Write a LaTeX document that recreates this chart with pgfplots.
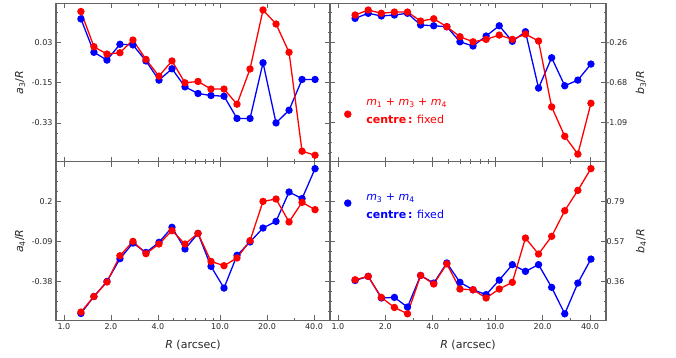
\documentclass[border=0pt]{standalone}
\usepackage{pgfplots}
\usepackage{pgfplotstable}
\pgfplotsset{compat=1.18}
\usepackage{fontspec}
\setmainfont{DejaVu Sans}
\definecolor{mred}{RGB}{255,0,0}
\definecolor{mblue}{RGB}{0,0,255}
\definecolor{framec}{RGB}{100,100,100}

\pgfplotstableread{
R      a3r     a3b     b3r     b3b     a4r     a4b     b4r    b4b
1.285  0.170   0.137   0.029  -0.006  -0.602  -0.612   0.369  0.365
1.557  0.012  -0.013   0.081   0.047  -0.489  -0.489   0.387  0.387
1.887 -0.021  -0.048   0.047   0.019  -0.384  -0.380   0.274  0.271
2.285 -0.015   0.023   0.060   0.029  -0.194  -0.215   0.220  0.274
2.768  0.042   0.020   0.060   0.047  -0.090  -0.102   0.186  0.222
3.354 -0.045  -0.052  -0.034  -0.075  -0.179  -0.170   0.392  0.392
4.063 -0.120  -0.138  -0.010  -0.083  -0.109  -0.097   0.346  0.351
4.922 -0.052  -0.087  -0.093  -0.093  -0.012   0.012   0.454  0.459
5.964 -0.150  -0.168  -0.197  -0.250  -0.109  -0.145   0.319  0.355
7.224 -0.144  -0.198  -0.250  -0.294  -0.032  -0.032   0.315  0.315
8.750 -0.178  -0.207  -0.225  -0.190  -0.235  -0.271   0.271  0.289
10.60 -0.178  -0.210  -0.180  -0.083  -0.266  -0.428   0.319  0.367
12.84 -0.246  -0.310  -0.225  -0.245  -0.210  -0.191   0.355  0.450
15.56 -0.088  -0.310  -0.170  -0.145  -0.085  -0.094   0.593  0.414
18.85  0.177  -0.060  -0.242  -0.732   0.200   0.007   0.507  0.450
22.83  0.114  -0.330  -0.928  -0.416   0.217   0.055   0.602  0.328
27.66 -0.013  -0.273  -1.234  -0.708   0.051   0.268   0.740  0.186
33.51 -0.457  -0.135  -1.420  -0.649   0.193   0.220   0.849  0.351
40.59 -0.475  -0.135  -0.890  -0.482   0.140   0.437   0.966  0.480
}\mytab

\pgfplotsset{
  every axis/.append style={
    scale only axis, xmin=0.89, xmax=50.6,
    xtick={1,2,4,10,20,40}, minor xtick={3,5,6,7,8,9,30},
    tick align=inside, xtick pos=both, ytick pos=both,
    major tick length=5pt, minor tick length=2.5pt,
    axis line style={framec, line width=1.1pt},
    tick style={framec, line width=0.8pt},
    tick label style={font=\fontsize{8}{9}\selectfont, text=black!85},
    label style={font=\fontsize{11}{13}\selectfont, text=black!85},
    clip=false,
    legend cell align=left,
  },
}

\begin{document}
\begin{tikzpicture}
\path[use as bounding box] (0,0) rectangle (676pt,358pt);

% a3 (top left)
\begin{semilogxaxis}[at={(56pt,196.1pt)}, anchor=south west,
  width=274pt, height=158.4pt, xticklabels={},
  ymin=-0.505, ymax=0.206,
  ytick={0.03,-0.15,-0.33}, yticklabels={0.03,-0.15,-0.33},
  minor ytick={-0.465,-0.42,...,0.17},
  ylabel={{\itshape a}\textsubscript{3}/{\itshape R}},
  ylabel style={at={(axis description cs:-0.131,0.5)}, anchor=center}]
\addplot[mblue, line width=1.3pt, mark=*, mark size=3pt, mark options={solid, fill=mblue}] table[x=R, y=a3b] {\mytab};
\addplot[mred, line width=1.3pt, mark=*, mark size=3pt, mark options={solid, fill=mred}] table[x=R, y=a3r] {\mytab};
\end{semilogxaxis}

% b3 (top right)
\begin{semilogxaxis}[at={(330pt,196.1pt)}, anchor=south west,
  width=276pt, height=158.4pt, xticklabels={},
  yticklabel pos=right, yticklabel style={xshift=-3pt},
  ymin=-1.501, ymax=0.149,
  ytick={-0.26,-0.675,-1.09}, yticklabels={-0.26,-0.68,-1.09},
  minor ytick={-1.40125,-1.2975,...,0.06},
  ylabel={{\itshape b}\textsubscript{3}/{\itshape R}},
  ylabel style={at={(axis description cs:1.127,0.5)}, anchor=center},
  legend style={at={(axis description cs:0.051,0.301)}, anchor=west,
    draw=none, fill=none, inner sep=0pt, font=\fontsize{11}{13}\selectfont}]
\addlegendimage{only marks, mark=*, mark size=3.5pt, mred}
\addlegendentry{\textcolor{mred}{\raisebox{12pt}{\begin{tabular}{@{\hspace{13pt}}l@{}}{\itshape m}\textsubscript{1} + {\itshape m}\textsubscript{3} + {\itshape m}\textsubscript{4}\\[5pt] \textbf{centre\,:} fixed\rule[-12pt]{0pt}{0pt}\end{tabular}}}}
\addplot[mblue, line width=1.3pt, mark=*, mark size=3pt, mark options={solid, fill=mblue}] table[x=R, y=b3b] {\mytab};
\addplot[mred, line width=1.3pt, mark=*, mark size=3pt, mark options={solid, fill=mred}] table[x=R, y=b3r] {\mytab};
\end{semilogxaxis}

% a4 (bottom left)
\begin{semilogxaxis}[at={(56pt,37.5pt)}, anchor=south west,
  width=274pt, height=158.6pt,
  xticklabels={1.0,2.0,4.0,10.0,20.0,40.0},
  xlabel={{\itshape R} (arcsec)},
  xlabel style={at={(axis description cs:0.5,-0.153)}, anchor=center},
  ymin=-0.663, ymax=0.486,
  ytick={0.2,-0.09,-0.38}, yticklabels={0.2,-0.09,-0.38},
  minor ytick={-0.5975,-0.525,...,0.42},
  ylabel={{\itshape a}\textsubscript{4}/{\itshape R}},
  ylabel style={at={(axis description cs:-0.131,0.5)}, anchor=center}]
\addplot[mblue, line width=1.3pt, mark=*, mark size=3pt, mark options={solid, fill=mblue}] table[x=R, y=a4b] {\mytab};
\addplot[mred, line width=1.3pt, mark=*, mark size=3pt, mark options={solid, fill=mred}] table[x=R, y=a4r] {\mytab};
\end{semilogxaxis}

% b4 (bottom right)
\begin{semilogxaxis}[at={(330pt,37.5pt)}, anchor=south west,
  width=276pt, height=158.6pt,
  xticklabels={1.0,2.0,4.0,10.0,20.0,40.0},
  xlabel={{\itshape R} (arcsec)},
  xlabel style={at={(axis description cs:0.5,-0.153)}, anchor=center},
  yticklabel pos=right, yticklabel style={xshift=-3pt},
  ymin=0.150, ymax=1.002,
  ytick={0.79,0.575,0.36}, yticklabels={0.79,0.57,0.36},
  minor ytick={0.19875,0.2525,...,0.96},
  ylabel={{\itshape b}\textsubscript{4}/{\itshape R}},
  ylabel style={at={(axis description cs:1.127,0.5)}, anchor=center},
  legend style={at={(axis description cs:0.051,0.740)}, anchor=west,
    draw=none, fill=none, inner sep=0pt, font=\fontsize{11}{13}\selectfont}]
\addlegendimage{only marks, mark=*, mark size=3.5pt, mblue}
\addlegendentry{\textcolor{mblue}{\raisebox{9pt}{\begin{tabular}{@{\hspace{13pt}}l@{}}\rule{0pt}{12.5pt}{\itshape m}\textsubscript{3} + {\itshape m}\textsubscript{4}\\[5pt] \textbf{centre\,:} fixed\end{tabular}}}}
\addplot[mblue, line width=1.3pt, mark=*, mark size=3pt, mark options={solid, fill=mblue}] table[x=R, y=b4b] {\mytab};
\addplot[mred, line width=1.3pt, mark=*, mark size=3pt, mark options={solid, fill=mred}] table[x=R, y=b4r] {\mytab};
\end{semilogxaxis}
\end{tikzpicture}
\end{document}
